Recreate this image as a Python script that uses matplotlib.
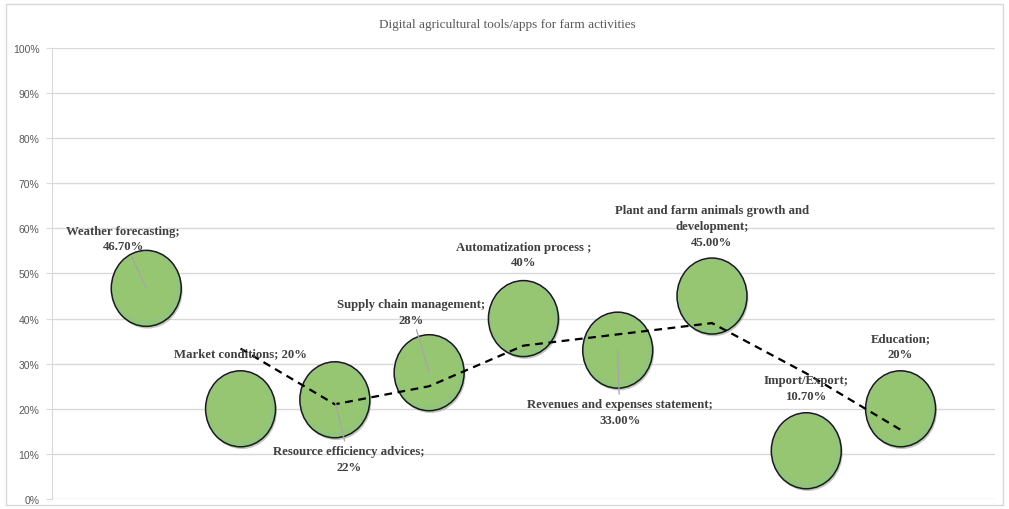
import numpy as np
import matplotlib.pyplot as plt
from matplotlib.patches import Ellipse, Rectangle

# data
categories = [
    "Weather forecasting;",
    "Market conditions;",
    "Resource efficiency advices;",
    "Supply chain management;",
    "Automatization process ;",
    "Revenues and expenses statement;",
    "Plant and farm animals growth and\ndevelopment;",
    "Import/Export;",
    "Education;",
]
values = [46.7, 20, 22, 28, 40, 33, 45, 10.7, 20]
value_labels = ["46.70%", "20%", "22%", "28%", "40%", "33.00%", "45.00%", "10.70%", "20%"]
single_line = [False, True, False, False, False, False, False, False, False]

# label placement (pixel offsets from bubble centre) and leader lines
label_offsets = [(-23, 50), (0, 56), (14, -59), (-18, 61), (0, 64),
                 (2, -62), (0, 70), (0, 63), (0, 63)]
leaders = [True, False, True, True, False, True, False, False, False]

x = np.arange(1, len(values) + 1)
vals = np.array(values)
# 2-period moving average trendline
ma = (vals[1:] + vals[:-1]) / 2
ma_x = x[1:]

fig = plt.figure(figsize=(10.09, 5.10), dpi=100)
fig.patches.append(Rectangle((0.006, 0.008), 0.988, 0.983, transform=fig.transFigure,
                             fill=False, edgecolor='#d9d9d9', linewidth=1))
ax = fig.add_axes([0.0515, 0.0196, 0.9345, 0.8844])

ax.set_xlim(0, 10)
ax.set_ylim(0, 100)
ax.set_yticks(np.arange(0, 101, 10))
ax.set_yticklabels([f"{t}%" for t in range(0, 101, 10)],
                   fontsize=7.5, color='#595959', family='Liberation Sans')
ax.set_xticks([])
ax.grid(axis='y', color='#d9d9d9', linewidth=1)
ax.set_axisbelow(True)
for s in ['top', 'right', 'bottom']:
    ax.spines[s].set_visible(False)
ax.spines['left'].set_color('#d9d9d9')
ax.tick_params(axis='y', length=4, color='#d9d9d9', pad=5)

w, h = 0.742, 16.85
for xi, v in zip(x, values):
    ax.add_patch(Ellipse((xi + 0.015, v - 0.5), w, h, facecolor='#5a5a5a',
                         edgecolor='none', alpha=0.35, zorder=2))
    ax.add_patch(Ellipse((xi, v), w, h, facecolor='#93c47d',
                         edgecolor='#1a1a1a', linewidth=1.1, zorder=3))
    ax.add_patch(Ellipse((xi - 0.015, v + 0.5), w * 0.9, h * 0.9, facecolor='#97c673',
                         edgecolor='none', zorder=3))

ax.plot(ma_x, ma, color='black', linestyle=(0, (3.5, 2.5)), linewidth=1.6, zorder=4)

for i, (xi, v) in enumerate(zip(x, values)):
    sep = " " if single_line[i] else "\n"
    txt = categories[i] + sep + value_labels[i]
    props = None
    if leaders[i]:
        props = dict(arrowstyle='-', color='#a6a6a6', linewidth=0.9, shrinkA=1, shrinkB=0)
    ax.annotate(txt, xy=(xi, v), xytext=label_offsets[i], textcoords='offset pixels',
                ha='center', va='center', fontsize=9.2, fontweight='bold',
                family='Liberation Serif', color='#404040', linespacing=1.4,
                arrowprops=props, zorder=5)

fig.text(0.503, 0.951, "Digital agricultural tools/apps for farm activities",
         ha='center', va='center', fontsize=9.5, color='#595959',
         family='Liberation Serif')

fig.savefig("out.png", dpi=100)
